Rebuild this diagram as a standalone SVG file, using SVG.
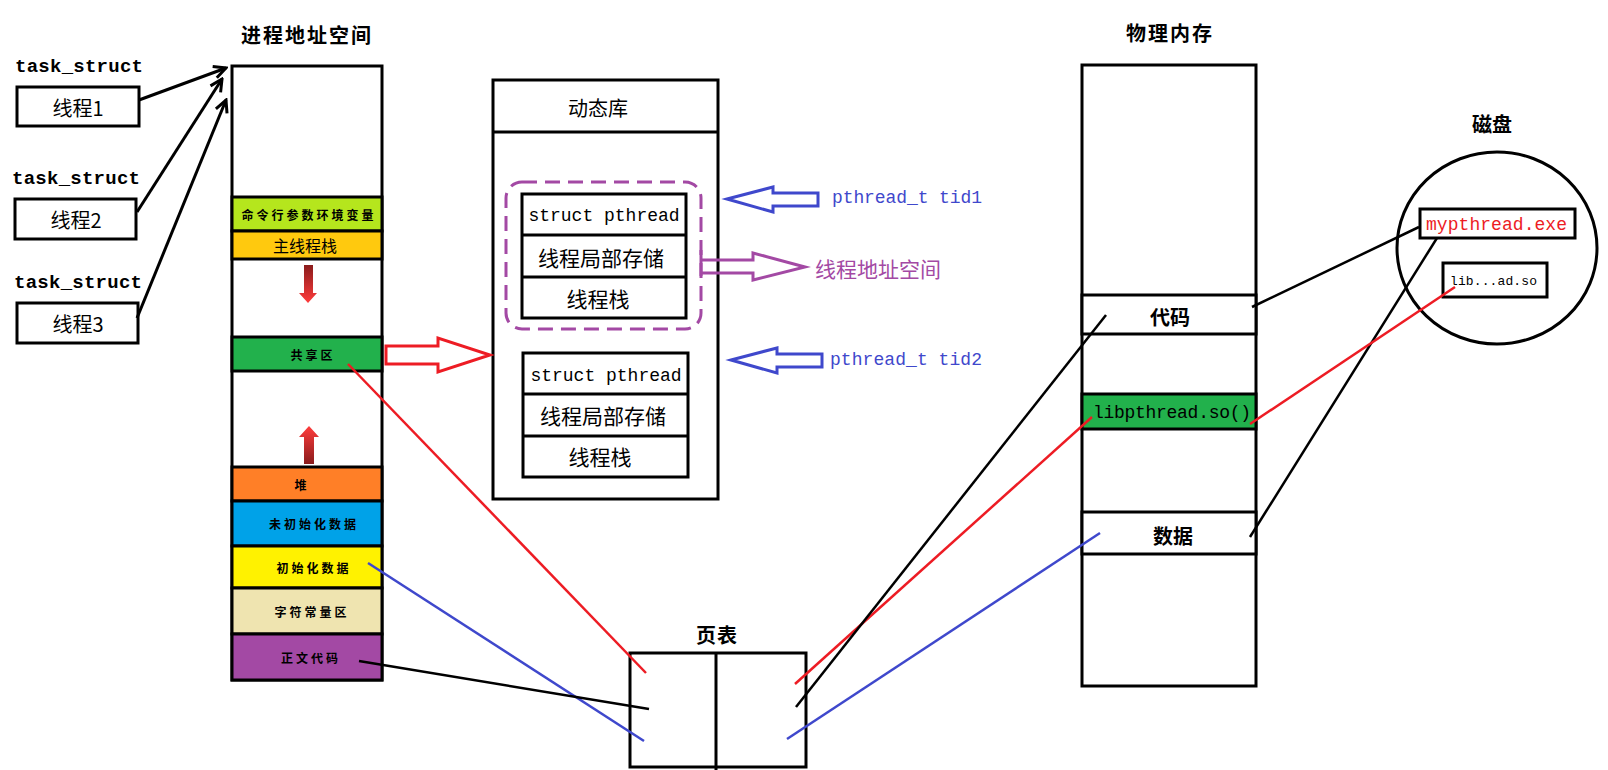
<svg xmlns="http://www.w3.org/2000/svg" width="1608" height="770" viewBox="0 0 1608 770">
<style>
text{font-family:"Noto Sans CJK SC","Liberation Sans",sans-serif;fill:#000}
.mono{font-family:"Liberation Mono","Noto Sans CJK SC",monospace}
.title{font-size:20px;font-weight:bold}
.box{fill:#fff;stroke:#000;stroke-width:3}
.band{stroke:#000;stroke-width:3}
.lbl{font-size:12px;font-weight:bold;letter-spacing:3px}
.c{text-anchor:middle;dominant-baseline:central}
.ln{stroke-width:2.5;fill:none}
</style>
<defs>
<marker id="open" viewBox="0 0 16 16" refX="14" refY="8" markerWidth="16" markerHeight="16" markerUnits="userSpaceOnUse" orient="auto">
<path d="M2,2 L14,8 L2,14" fill="none" stroke="#000" stroke-width="3"/>
</marker>
<linearGradient id="gDown" x1="0" y1="0" x2="0" y2="1"><stop offset="0" stop-color="#8a1c1c"/><stop offset="1" stop-color="#ff3c3c"/></linearGradient>
<linearGradient id="gUp" x1="0" y1="0" x2="0" y2="1"><stop offset="0" stop-color="#ff3c3c"/><stop offset="1" stop-color="#8a1c1c"/></linearGradient>
</defs>
<rect width="1608" height="770" fill="#fff"/>

<g id="threads">
<text class="mono" x="15" y="72" font-size="19" font-weight="bold" textLength="128">task_struct</text>
<rect class="box" x="17" y="87" width="122" height="39"/>
<text class="c" x="78" y="107" font-size="20">线程1</text>
<text class="mono" x="12" y="184" font-size="19" font-weight="bold" textLength="128">task_struct</text>
<rect class="box" x="15" y="199" width="121" height="40"/>
<text class="c" x="76" y="219" font-size="20">线程2</text>
<text class="mono" x="14" y="288" font-size="19" font-weight="bold" textLength="128">task_struct</text>
<rect class="box" x="17" y="303" width="121" height="40"/>
<text class="c" x="78" y="323" font-size="20">线程3</text>
</g>

<g id="process-space">
<text class="title c" x="307" y="34" letter-spacing="2">进程地址空间</text>
<rect class="box" x="232" y="66" width="150" height="614"/>
<rect class="band" x="232" y="197" width="150" height="34" fill="#b5e61d"/>
<rect class="band" x="232" y="231" width="150" height="28" fill="#ffc90e"/>
<rect class="band" x="232" y="337" width="150" height="34" fill="#22b14c"/>
<rect class="band" x="232" y="467" width="150" height="34" fill="#ff7f27"/>
<rect class="band" x="232" y="501" width="150" height="45" fill="#00a2e8"/>
<rect class="band" x="232" y="546" width="150" height="42" fill="#fff200"/>
<rect class="band" x="232" y="588" width="150" height="46" fill="#efe4b0"/>
<rect class="band" x="232" y="634" width="150" height="46" fill="#a349a4"/>
<text class="lbl c" x="309" y="214" letter-spacing="3">命令行参数环境变量</text>
<text class="c" x="305" y="245" font-size="16">主线程栈</text>
<text class="lbl c" x="313" y="354" letter-spacing="5">共享区</text>
<text class="lbl c" x="302" y="484">堆</text>
<text class="lbl c" x="314" y="523">未初始化数据</text>
<text class="lbl c" x="314" y="567">初始化数据</text>
<text class="lbl c" x="312" y="611">字符常量区</text>
<text class="lbl c" x="311" y="657">正文代码</text>
<path d="M304,265 L313,265 L313,293 L317,293 L308,303 L299,293 L304,293 Z" fill="url(#gDown)"/>
<path d="M309,426 L319,437 L314,437 L314,464 L304,464 L304,437 L299,437 Z" fill="url(#gUp)"/>
</g>

<g id="dynamic-lib">
<rect class="box" x="493" y="80" width="225" height="419"/>
<line x1="493" y1="132" x2="718" y2="132" stroke="#000" stroke-width="3"/>
<text class="c" x="598" y="107" font-size="20">动态库</text>
<rect x="506" y="182" width="195" height="147" rx="16" fill="none" stroke="#a349a4" stroke-width="3" stroke-dasharray="15 8"/>
<rect class="box" x="522" y="194" width="164" height="124"/>
<line x1="522" y1="235" x2="686" y2="235" stroke="#000" stroke-width="3"/>
<line x1="522" y1="277" x2="686" y2="277" stroke="#000" stroke-width="3"/>
<text class="mono" x="604" y="221" font-size="18" text-anchor="middle">struct pthread</text>
<text class="c" x="601" y="257" font-size="21">线程局部存储</text>
<text class="c" x="598" y="298" font-size="21">线程栈</text>
<rect class="box" x="523" y="353" width="165" height="124"/>
<line x1="523" y1="394" x2="688" y2="394" stroke="#000" stroke-width="3"/>
<line x1="523" y1="436" x2="688" y2="436" stroke="#000" stroke-width="3"/>
<text class="mono" x="606" y="381" font-size="18" text-anchor="middle">struct pthread</text>
<text class="c" x="603" y="415" font-size="21">线程局部存储</text>
<text class="c" x="600" y="456" font-size="21">线程栈</text>
</g>

<g id="tid-labels">
<polygon points="727,199 773,187 773,193 818,193 818,206 773,206 773,212" fill="none" stroke="#3f48cc" stroke-width="3"/>
<text class="mono" x="832" y="203" font-size="18" fill="#3f48cc" style="fill:#3f48cc" textLength="150">pthread_t tid1</text>
<polygon points="731,360 777,348 777,354 822,354 822,367 777,367 777,373" fill="none" stroke="#3f48cc" stroke-width="3"/>
<text class="mono" x="830" y="365" font-size="18" style="fill:#3f48cc" textLength="152">pthread_t tid2</text>
<polyline points="701,260 753,260 753,253 805,267 753,280 753,273 701,273" fill="none" stroke="#a349a4" stroke-width="3"/>
<line x1="701" y1="250" x2="701" y2="276" stroke="#a349a4" stroke-width="3"/>
<text class="c" x="878" y="268" font-size="21" style="fill:#a349a4">线程地址空间</text>
</g>

<g id="page-table">
<text class="title c" x="717" y="634" letter-spacing="1">页表</text>
<rect class="box" x="630" y="653" width="176" height="114"/>
<line x1="716" y1="653" x2="716" y2="770" stroke="#000" stroke-width="3"/>
</g>

<g id="physical-memory">
<text class="title c" x="1170" y="32" letter-spacing="2">物理内存</text>
<rect class="box" x="1082" y="65" width="174" height="621"/>
<rect class="box" x="1082" y="295" width="174" height="39"/>
<text class="title c" x="1170" y="316">代码</text>
<rect class="band" x="1082" y="394" width="174" height="35" fill="#22b14c"/>
<text class="mono" x="1093" y="418" font-size="18" textLength="158">libpthread.so()</text>
<rect class="box" x="1082" y="512" width="174" height="42"/>
<text class="title c" x="1173" y="535">数据</text>
</g>

<g id="disk">
<text class="c" x="1492" y="123" font-size="20" font-weight="bold">磁盘</text>
<ellipse cx="1497" cy="248" rx="100" ry="96" fill="none" stroke="#000" stroke-width="3"/>
<rect class="box" x="1420" y="209" width="155" height="29"/>
<text class="mono" x="1426" y="230" font-size="18" style="fill:#ed1c24" textLength="141">mypthread.exe</text>
<rect class="box" x="1443" y="263" width="104" height="34"/>
<text class="mono" x="1450" y="285" font-size="13" textLength="87">lib...ad.so</text>
</g>

<g id="connectors">
<line x1="139" y1="100" x2="226" y2="68" stroke="#000" stroke-width="3" marker-end="url(#open)"/>
<line x1="137" y1="212" x2="222" y2="79" stroke="#000" stroke-width="3" marker-end="url(#open)"/>
<line x1="137" y1="318" x2="226" y2="100" stroke="#000" stroke-width="3" marker-end="url(#open)"/>
<polygon points="386,346 438,346 438,338 490,355 438,372 438,364 386,364" fill="none" stroke="#ed1c24" stroke-width="3"/>
<line class="ln" x1="348" y1="364" x2="646" y2="673" stroke="#ed1c24"/>
<line class="ln" x1="368" y1="563" x2="644" y2="741" stroke="#3f48cc"/>
<line class="ln" x1="359" y1="661" x2="649" y2="709" stroke="#000"/>
<line class="ln" x1="795" y1="684" x2="1092" y2="417" stroke="#ed1c24"/>
<line class="ln" x1="796" y1="707" x2="1106" y2="315" stroke="#000"/>
<line class="ln" x1="787" y1="739" x2="1100" y2="533" stroke="#3f48cc"/>
<line class="ln" x1="1419" y1="227" x2="1252" y2="307" stroke="#000"/>
<line class="ln" x1="1437" y1="238" x2="1250" y2="537" stroke="#000"/>
<line class="ln" x1="1455" y1="287" x2="1250" y2="424" stroke="#ed1c24"/>
</g>
</svg>
